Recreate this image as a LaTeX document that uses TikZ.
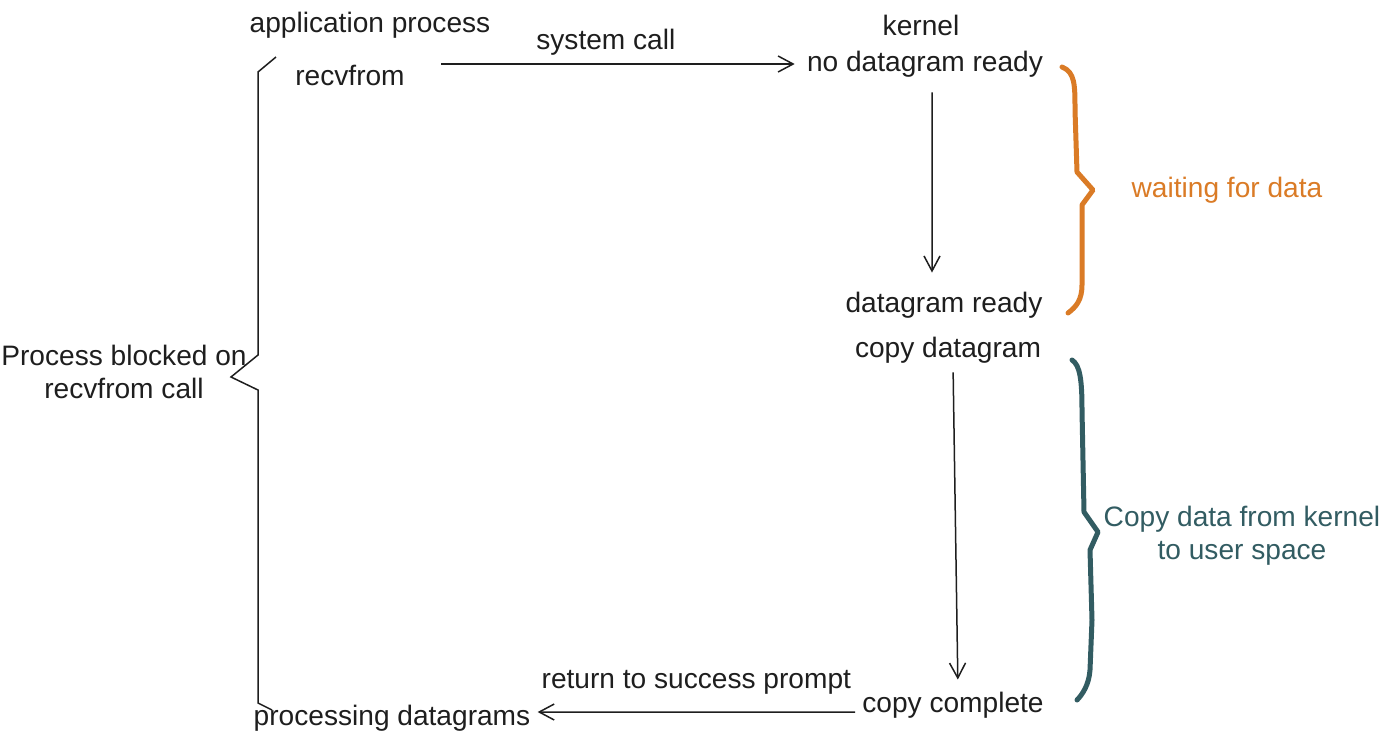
\documentclass[tikz,border=0pt]{standalone}
\usepackage{fontspec}
\setmainfont{Liberation Sans}
\usepackage{tikz}
\usetikzlibrary{
    positioning,
    arrows.meta
}
\definecolor{inkdark}{HTML}{1E1E1E}
\definecolor{waitorange}{HTML}{DA7B26}
\definecolor{copyteal}{HTML}{325C62}
\tikzset{txt/.style={
    text=inkdark,
    font=\fontsize{16}{19}\selectfont,
    inner sep=0pt,
}}
\tikzset{arrow/.style={
    -{Straight Barb[length=0.3cm,width=0.32cm]},
    line width=0.3mm,
    color=inkdark,
}}
\tikzset{brace/.style={
    line width=1mm,
    line cap=round,
    line join=round,
}}
\tikzset{thinbrace/.style={
    line width=0.3mm,
    color=inkdark,
}}

\begin{document}
\begin{tikzpicture}[
                x=0.02cm,
                y=-0.02cm,
                align=center
        ]
            \useasboundingbox (0,0) rectangle (1400,741);

            \node[txt] (app) at (370,25) {application process};
            \node[txt] (recv) at (350,75) {recvfrom};
            \node[txt] (kernel) at (921,25) {kernel};
            \node[txt] (nodata) at (925,64) {no datagram ready};
            \node[txt] (ready) at (944,305) {datagram ready};
            \node[txt] (copy) at (948,350) {copy datagram};
            \node[txt] (done) at (953,705) {copy complete};
            \node[txt] (proc) at (392,718) {processing datagrams};

            \node[txt] (blocked) at (124,372) {Process blocked on\\recvfrom call};
            \node[txt, text=waitorange] (waiting) at (1227,190) {waiting for data};
            \node[txt, text=copyteal] (copytext) at (1242,536) {Copy data from kernel\\to user space};

            \draw[arrow, shorten <=0.72cm, shorten >=0.24cm] (recv.east |- nodata.west) -- (nodata.west)
                node[midway, above=0.15cm, txt] (syscall) {system call};
            \draw[arrow, shorten <=0.3cm, shorten >=0.38cm] ([xshift=0.14cm]nodata.south) -- ([xshift=-0.24cm]ready.north);
            \draw[arrow, shorten <=0.18cm, shorten >=0.24cm] ([xshift=0.1cm]copy.south) -- ([xshift=0.1cm]done.north);
            \draw[arrow, shorten <=0.14cm, shorten >=0.14cm] ([yshift=-0.14cm]done.west) -- ([yshift=0.12cm]proc.east)
                node[midway, above=0.33cm, txt] (retprompt) {return to success prompt};

            \draw[thinbrace] (276,57) -- (258,72) -- (258,355) -- (231,377) -- (258,390) -- (258,703) -- (272,710);
            \draw[brace, waitorange] (1062,67) .. controls (1075,72) and (1075,85) .. (1075,110)
                -- (1077,172) -- (1093,190) -- (1082,205) -- (1082,285)
                .. controls (1082,300) and (1076,307) .. (1068,313);
            \draw[brace, copyteal] (1072,360) .. controls (1080,365) and (1082,380) .. (1082,410)
                -- (1084,512) -- (1098,532) -- (1090,550) -- (1092,620) -- (1090,670)
                .. controls (1089,685) and (1082,695) .. (1077,700);

        \end{tikzpicture}
\end{document}
